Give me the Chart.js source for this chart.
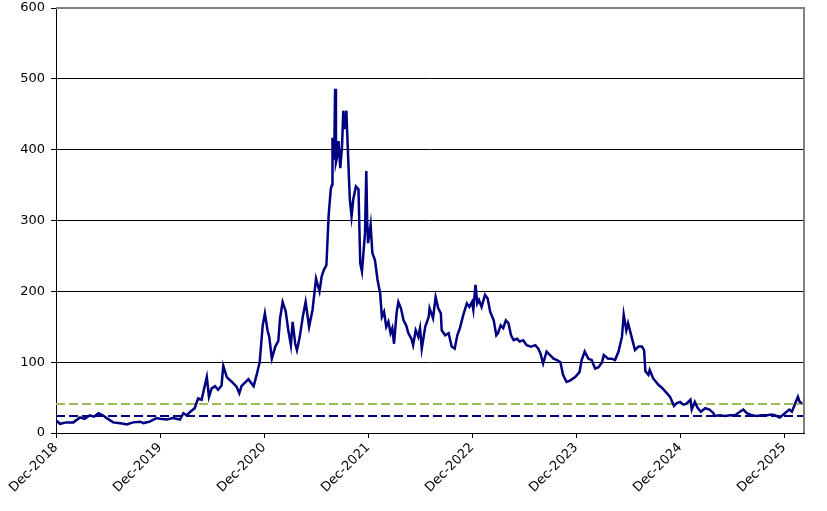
<!DOCTYPE html>
<html>
<head>
<meta charset="utf-8">
<script src="https://cdn.jsdelivr.net/npm/chart.js@4.4.1/dist/chart.umd.min.js"></script>
<style>
    html, body { margin: 0; padding: 0; background: #fff; }
    #wrap { width: 827px; height: 511px; }
</style>
</head>
<body>
<div id="wrap"><canvas id="grafico"></canvas></div>
<script>
// months counted from Dec-2018
const months = [
    0, 0.46, 1.2, 2.0, 2.77, 3.3, 3.9, 4.4, 4.9, 5.4, 5.85, 6.6, 7.2, 7.8, 8.15, 8.9, 9.7, 10.1, 10.8, 11.6,
    12, 12.8, 13.5, 14.3, 14.7, 15.1, 15.5, 16.0, 16.4, 16.8, 17.0, 17.4, 17.65, 17.96, 18.35, 18.7, 19.1, 19.3, 19.7, 20.3,
    20.85, 21.15, 21.4, 22.2, 22.8, 23.15, 23.5, 23.85, 24.1, 24.4, 24.6, 24.9, 25.3, 25.65, 25.85, 26.15, 26.5, 26.8, 27.1, 27.3,
    27.6, 27.8, 28.1, 28.5, 28.8, 29.2, 29.6, 30.0, 30.4, 30.65, 30.9, 31.2, 31.45, 31.7, 31.85, 31.9, 32.1, 32.2, 32.3, 32.5,
    32.6, 32.8, 33.0, 33.15, 33.3, 33.5, 33.7, 33.9, 34.1, 34.3, 34.6, 34.9, 35.1, 35.3, 35.5, 35.65, 35.8, 35.9, 36.0, 36.3,
    36.5, 36.8, 37.1, 37.4, 37.6, 37.85, 38.1, 38.35, 38.6, 38.8, 39.0, 39.3, 39.5, 39.8, 40.1, 40.4, 40.65, 41.0, 41.2, 41.5,
    41.8, 42.0, 42.2, 42.6, 43.0, 43.1, 43.5, 43.8, 44.1, 44.4, 44.5, 44.9, 45.3, 45.65, 46.0, 46.3, 46.6, 47.0, 47.4, 47.7,
    48.0, 48.15, 48.4, 48.6, 48.8, 49.1, 49.5, 49.8, 50.1, 50.5, 50.8, 51.0, 51.3, 51.6, 51.9, 52.2, 52.5, 52.8, 53.2, 53.5,
    53.9, 54.3, 54.8, 55.3, 55.65, 55.9, 56.2, 56.6, 57.0, 57.4, 57.8, 58.2, 58.5, 58.9, 59.3, 59.9, 60.4, 60.65, 61.0, 61.4,
    61.8, 62.2, 62.6, 63.0, 63.2, 63.7, 64.1, 64.5, 64.9, 65.3, 65.5, 65.8, 66.0, 66.4, 66.8, 67.2, 67.6, 67.85, 68.0, 68.35,
    68.5, 68.9, 69.5, 69.9, 70.5, 70.85, 71.3, 71.6, 72.0, 72.4, 72.7, 73.2, 73.35, 73.7, 74.0, 74.4, 74.9, 75.4, 75.85, 76.0,
    76.6, 77.2, 77.8, 78.35, 78.9, 79.3, 79.7, 80.3, 80.85, 81.4, 82.0, 82.6, 83.15, 83.5, 84.1, 84.6, 84.9, 85.3, 85.6, 85.8,
    86.1
]
const prices = [
    18, 13, 15, 15, 22, 20, 25, 23, 28, 25, 21, 15, 14, 13, 12, 15, 16, 14, 16, 21,
    20, 19, 21, 19, 28, 25, 30, 35, 49, 47, 58, 79, 51, 63, 66, 61, 67, 95, 79, 72,
    65, 56, 66, 76, 66, 82, 100, 152, 169, 145, 136, 105, 122, 130, 162, 185, 172, 145, 124, 157,
    126, 117, 134, 166, 185, 150, 174, 218, 200, 221, 230, 237, 306, 344, 351, 417, 386, 486, 382, 393,
    412, 374, 405, 455, 429, 455, 391, 330, 306, 330, 348, 344, 240, 228, 259, 282, 370, 301, 268, 294,
    254, 244, 216, 197, 164, 171, 150, 157, 141, 148, 126, 170, 185, 176, 159, 152, 141, 133, 124, 145,
    136, 148, 119, 150, 164, 176, 162, 192, 176, 169, 145, 138, 141, 122, 119, 138, 148, 167, 183, 178,
    185, 174, 209, 183, 188, 178, 195, 190, 171, 159, 138, 141, 152, 148, 159, 155, 138, 131, 133, 129,
    131, 124, 122, 124, 119, 112, 98, 115, 110, 105, 103, 100, 82, 72, 74, 79, 86, 103, 115, 105,
    103, 91, 93, 100, 110, 105, 105, 103, 115, 136, 167, 145, 155, 136, 117, 122, 122, 117, 87, 82,
    89, 77, 68, 64, 56, 51, 38, 42, 44, 40, 41, 47, 33, 44, 36, 30, 35, 33, 28, 24,
    25, 24, 25, 25, 30, 33, 28, 25, 24, 25, 25, 26, 24, 22, 28, 33, 30, 42, 51, 44,
    42
]
const yearLabels = ['Dec-2018', 'Dec-2019', 'Dec-2020', 'Dec-2021', 'Dec-2022', 'Dec-2023', 'Dec-2024', 'Dec-2025']
const xEnd = 86.3
const greenLevel = 41
const navyLevel = 24

const bordaPlot = {
    id: 'bordaPlot',
    afterDraw(chart) {
        const { ctx, chartArea: a } = chart
        ctx.save()
        ctx.strokeStyle = '#808080'
        ctx.lineWidth = 2
        ctx.beginPath()
        ctx.moveTo(a.left, a.top)
        ctx.lineTo(a.right, a.top)
        ctx.lineTo(a.right, a.bottom)
        ctx.stroke()
        ctx.restore()
    }
}

const fonte = { family: 'DejaVu Sans', size: 13 }

new Chart(document.getElementById('grafico'), {
    type: 'line',
    data: {
        datasets: [
            {
                data: months.map((m, i) => ({ x: m, y: prices[i] })),
                borderColor: '#000080',
                borderWidth: 2.5,
                pointRadius: 0,
                tension: 0
            },
            {
                data: [{ x: 0, y: greenLevel }, { x: xEnd, y: greenLevel }],
                borderColor: '#9BBB59',
                borderWidth: 2,
                borderDash: [9, 4],
                pointRadius: 0
            },
            {
                data: [{ x: 0, y: navyLevel }, { x: xEnd, y: navyLevel }],
                borderColor: '#000080',
                borderWidth: 2,
                borderDash: [9, 4],
                pointRadius: 0
            }
        ]
    },
    options: {
        responsive: true,
        maintainAspectRatio: false,
        animation: false,
        layout: { padding: { top: 8, right: 23, left: 0, bottom: 0 } },
        plugins: { legend: { display: false }, tooltip: { enabled: false } },
        scales: {
            x: {
                type: 'linear',
                min: 0,
                max: xEnd,
                afterBuildTicks: s => { s.ticks = yearLabels.map((_, i) => ({ value: i * 12 })) },
                afterFit: s => { s.height = 78 },
                ticks: {
                    callback: (v, i) => yearLabels[i],
                    maxRotation: 45,
                    minRotation: 45,
                    autoSkip: false,
                    color: '#000',
                    font: fonte,
                    padding: 2
                },
                grid: { drawOnChartArea: false, color: '#000', tickLength: 5 },
                border: { color: '#000', width: 1 }
            },
            y: {
                min: 0,
                max: 600,
                afterFit: s => { s.width = 56; s.paddingTop = 0; s.paddingBottom = 0 },
                ticks: { stepSize: 100, color: '#000', font: fonte, padding: 6 },
                grid: {
                    color: c => c.tick && c.tick.value === 600 ? 'rgba(0,0,0,0)' : '#000',
                    tickColor: '#000',
                    tickLength: 5
                },
                border: { color: '#000', width: 1 }
            }
        }
    },
    plugins: [bordaPlot]
})
</script>
</body>
</html>
